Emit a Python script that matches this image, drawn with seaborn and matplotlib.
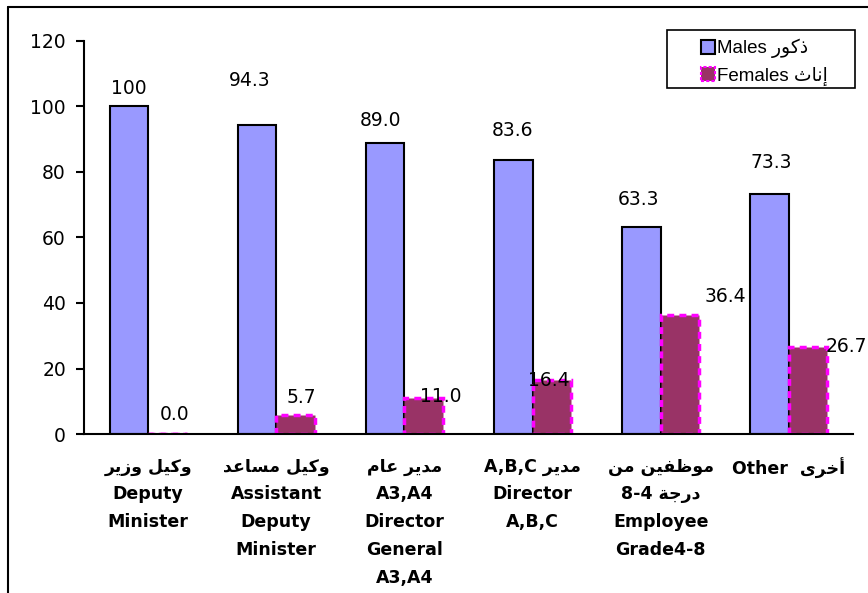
import pandas as pd
import seaborn as sns
import matplotlib.pyplot as plt
from matplotlib.patches import Patch
from matplotlib.lines import Line2D

# Arabic letters -> (isolated, final, initial, medial) presentation forms
FORMS = {
    'ا': ('\uFE8D', '\uFE8E', None, None),
    'أ': ('\uFE83', '\uFE84', None, None),
    'إ': ('\uFE87', '\uFE88', None, None),
    'ث': ('\uFE99', '\uFE9A', '\uFE9B', '\uFE9C'),
    'ج': ('\uFE9D', '\uFE9E', '\uFE9F', '\uFEA0'),
    'خ': ('\uFEA5', '\uFEA6', '\uFEA7', '\uFEA8'),
    'د': ('\uFEA9', '\uFEAA', None, None),
    'ذ': ('\uFEAB', '\uFEAC', None, None),
    'ر': ('\uFEAD', '\uFEAE', None, None),
    'ز': ('\uFEAF', '\uFEB0', None, None),
    'س': ('\uFEB1', '\uFEB2', '\uFEB3', '\uFEB4'),
    'ظ': ('\uFEC5', '\uFEC6', '\uFEC7', '\uFEC8'),
    'ع': ('\uFEC9', '\uFECA', '\uFECB', '\uFECC'),
    'ف': ('\uFED1', '\uFED2', '\uFED3', '\uFED4'),
    'ك': ('\uFED9', '\uFEDA', '\uFEDB', '\uFEDC'),
    'ل': ('\uFEDD', '\uFEDE', '\uFEDF', '\uFEE0'),
    'م': ('\uFEE1', '\uFEE2', '\uFEE3', '\uFEE4'),
    'ن': ('\uFEE5', '\uFEE6', '\uFEE7', '\uFEE8'),
    'ة': ('\uFE93', '\uFE94', None, None),
    'و': ('\uFEED', '\uFEEE', None, None),
    'ى': ('\uFEEF', '\uFEF0', None, None),
    'ي': ('\uFEF1', '\uFEF2', '\uFEF3', '\uFEF4'),
}


def ar(text):
    # shape arabic letters and put them in visual (left to right) order
    out = []
    for i, ch in enumerate(text):
        if ch not in FORMS:
            out.append(ch)
            continue
        prev = text[i - 1] if i > 0 else None
        nxt = text[i + 1] if i + 1 < len(text) else None
        iso, fin, ini, med = FORMS[ch]
        jp = prev in FORMS and FORMS[prev][2] is not None
        jn = nxt in FORMS and ini is not None
        if jp and jn:
            out.append(med)
        elif jp:
            out.append(fin)
        elif jn:
            out.append(ini)
        else:
            out.append(iso)
    return ''.join(reversed(out))


categories = ['Deputy Minister', 'Assistant Deputy Minister', 'Director General A3,A4',
              'Director A,B,C', 'Employee Grade4-8', 'Other']
tick_labels = [
    [ar('وكيل وزير'), 'Deputy', 'Minister'],
    [ar('وكيل مساعد'), 'Assistant', 'Deputy', 'Minister'],
    [ar('مدير عام'), 'A3,A4', 'Director', 'General', 'A3,A4'],
    ['A,B,C ' + ar('مدير'), 'Director', 'A,B,C'],
    [ar('موظفين من'), '8-4 ' + ar('درجة'), 'Employee', 'Grade4-8'],
    ['Other  ' + ar('أخرى')],
]
males = [100, 94.3, 89.0, 83.6, 63.3, 73.3]
females = [0.0, 5.7, 11.0, 16.4, 36.4, 26.7]
male_text = ['100', '94.3', '89.0', '83.6', '63.3', '73.3']
female_text = ['0.0', '5.7', '11.0', '16.4', '36.4', '26.7']
series = ['Males ' + ar('ذكور'), 'Females ' + ar('إناث')]

df = pd.DataFrame({
    'cat': categories * 2,
    'sex': [series[0]] * 6 + [series[1]] * 6,
    'value': males + females,
})

sns.set_style('white', {'text.color': 'black', 'xtick.color': 'black',
                        'ytick.color': 'black', 'axes.labelcolor': 'black'})
plt.rcParams['font.family'] = ['DejaVu Sans']

fig = plt.figure(figsize=(8.68, 5.93), dpi=100)
ax = fig.add_axes([84 / 868, 159 / 593, 769 / 868, 393 / 593])

male_c, female_c = '#9999FF', '#993366'
sns.barplot(data=df, x='cat', y='value', hue='sex', order=categories,
            palette=[male_c, female_c], width=0.6, ax=ax, legend=False, saturation=1)

for bar in ax.containers[0]:
    bar.set_edgecolor('black')
    bar.set_linewidth(1.5)
for bar in ax.containers[1]:
    bar.set_edgecolor('#FF00FF')
    bar.set_linewidth(2.5)
    bar.set_linestyle((0, (2, 1.5)))

# label offsets in pixels (dx, dy) relative to the bar top
male_off = [(0, 18), (-7, 45), (-5, 22), (-1, 30), (-3, 27), (2, 31)]
female_off = [(7, 19), (6, 18), (17, 1), (-3, 0), (45, 18), (38, 0)]
for bars, texts, offs in [(ax.containers[0], male_text, male_off),
                          (ax.containers[1], female_text, female_off)]:
    for bar, t, (dx, dy) in zip(bars, texts, offs):
        ax.annotate(t, (bar.get_x() + bar.get_width() / 2, bar.get_height()),
                    xytext=(dx, dy), textcoords='offset pixels', color='black',
                    ha='center', va='center', fontsize=13.5, clip_on=False)

ax.set_xlim(-0.5, 5.5)
ax.set_ylim(0, 120)
ax.set_yticks(range(0, 121, 20))
ax.set_xticks(range(6))
ax.set_xticklabels(['\n'.join(l) for l in tick_labels], fontsize=12.5,
                   fontweight='bold', va='top', linespacing=1.7)
ax.set_xticks([i - 0.5 for i in range(7)], minor=True)
ax.tick_params(axis='x', which='major', length=0, pad=17, labelcolor='black')
ax.tick_params(axis='x', which='minor', length=6, width=1.5, direction='out', color='black')
ax.tick_params(axis='y', length=6, width=1.5, direction='out', color='black',
               labelcolor='black', labelsize=13.5, pad=7, left=True)
ax.set_xlabel('')
ax.set_ylabel('')
for s in ['top', 'right']:
    ax.spines[s].set_visible(False)
for s in ['left', 'bottom']:
    ax.spines[s].set_color('black')
    ax.spines[s].set_linewidth(1.5)

# legend
handles = [Patch(facecolor=male_c, edgecolor='black', linewidth=1.5),
           Patch(facecolor=female_c, edgecolor='#FF00FF', linewidth=1.5, linestyle=(0, (1.5, 1)))]
leg = fig.legend(handles, series, loc='upper left', bbox_to_anchor=(686 / 868, 1 - 24 / 593),
                 frameon=False, handlelength=0.75, handleheight=0.75,
                 handletextpad=0.1, labelspacing=0.45, borderpad=0.3, labelcolor='black',
                 prop={'family': ['Liberation Sans', 'DejaVu Sans'], 'size': 13.5})
fig.patches.append(plt.Rectangle((667 / 868, 1 - 88 / 593), 188 / 868, 58 / 593,
                                 transform=fig.transFigure, fill=False,
                                 edgecolor='black', linewidth=1.2))

# outer chart frame (cropped at right and bottom)
fig.add_artist(Line2D([8 / 868, 8 / 868], [0, 1 - 7 / 593], transform=fig.transFigure,
                      color='black', linewidth=1.5))
fig.add_artist(Line2D([8 / 868, 1], [1 - 7 / 593, 1 - 7 / 593], transform=fig.transFigure,
                      color='black', linewidth=1.5))

plt.savefig('out.png', dpi=100)
